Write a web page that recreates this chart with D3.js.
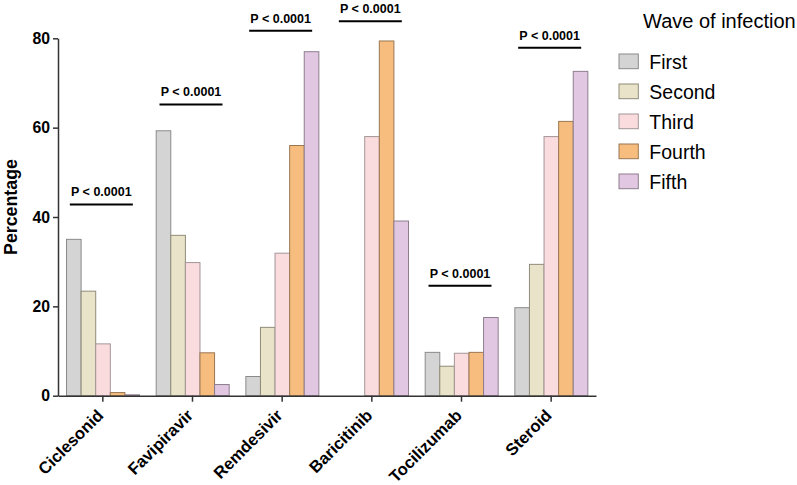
<!DOCTYPE html>
<html>
<head>
<meta charset="utf-8">
<script src="https://cdn.jsdelivr.net/npm/d3@7"></script>
<style>
  body { margin: 0; background: #fff; }
  svg { font-family: "Liberation Sans", Arial, sans-serif; display: block; }
  .axis path, .axis line { stroke: #333; stroke-width: 1.5; }
  .axis text { font-weight: bold; font-size: 15.8px; fill: #000; }
</style>
</head>
<body>
<svg id="chart"></svg>
<script>
// data
let categories = ['Ciclesonid', 'Favipiravir', 'Remdesivir', 'Baricitinib', 'Tocilizumab', 'Steroid'];
let waves = ['First', 'Second', 'Third', 'Fourth', 'Fifth'];

let first  = [35.0, 59.3, 4.3, 0, 9.7, 19.7];
let second = [23.4, 35.9, 15.3, 0, 6.6, 29.4];
let third  = [11.6, 29.8, 31.9, 58.0, 9.5, 58.0];
let fourth = [0.7, 9.6, 56.0, 79.4, 9.7, 61.4];
let fifth  = [0.2, 2.5, 77.0, 39.1, 17.5, 72.6];

// significance bars (height in percent) and their labels
let pLevels = [42.8, 65.2, 81.7, 83.8, 24.6, 77.9];
let pLabels = ['P < 0.0001', 'P < 0.0001', 'P < 0.0001', 'P < 0.0001', 'P < 0.0001', 'P < 0.0001'];

let yTicks = [0, 20, 40, 60, 80];

let fills   = ['#d4d4d4', '#e9e4c9', '#fadcdf', '#f7bd7e', '#e1c7e1'];
let strokes = ['#8a8a8a', '#8f8b78', '#a39597', '#9a7752', '#8d7e8d'];

let width = 797;
let height = 485;

let plot = { left: 58, right: 596, top: 38.3, bottom: 395.7 };

let svg = d3.select('#chart')
  .attr('width', width)
  .attr('height', height);

function translate(x, y) {
  return 'translate(' + x + ',' + y + ')';
}

let series = [first, second, third, fourth, fifth];

let rows = categories.map(function(c, i) {
  return {
    category: c,
    values: waves.map(function(w, j) {
      return { wave: w, value: series[j][i], index: j };
    })
  };
});

let x0 = d3.scaleBand()
  .domain(categories)
  .range([plot.left, plot.right])
  .paddingInner(0)
  .paddingOuter(0);

let x1 = d3.scaleBand()
  .domain(waves)
  .range([x0.bandwidth() * 0.095, x0.bandwidth() * 0.909])
  .padding(0);

let y = d3.scaleLinear()
  .domain([0, 80])
  .range([plot.bottom, plot.top]);

// bars
let groups = svg.append('g').attr('id', 'bars')
  .selectAll('g')
  .data(rows)
  .enter().append('g')
  .attr('transform', d => translate(x0(d.category), 0));

groups.selectAll('rect')
  .data(d => d.values)
  .enter().append('rect')
  .attr('x', d => x1(d.wave))
  .attr('width', x1.bandwidth())
  .attr('y', d => y(d.value))
  .attr('height', d => y(0) - y(d.value))
  .attr('fill', d => fills[d.index])
  .attr('stroke', d => strokes[d.index])
  .attr('stroke-width', 1);

// axes
let yAxis = d3.axisLeft(y)
  .tickValues(yTicks)
  .tickSize(5)
  .tickSizeOuter(0)
  .tickPadding(3);

svg.append('g')
  .attr('class', 'axis')
  .attr('transform', translate(plot.left, 0))
  .call(yAxis);

let xAxis = d3.axisBottom(x0)
  .tickSize(6)
  .tickSizeOuter(0)
  .tickFormat('');

svg.append('g')
  .attr('class', 'axis')
  .attr('transform', translate(0, plot.bottom))
  .call(xAxis);

// rotated category labels
svg.append('g').selectAll('text')
  .data(categories)
  .enter().append('text')
  .attr('transform', d => translate(x0(d) + x0.bandwidth() / 2 + 1.5, 416.5) + ' rotate(-45)')
  .attr('text-anchor', 'end')
  .style('font-weight', 'bold')
  .style('font-size', '16.6px')
  .text(d => d);

// y axis title
svg.append('text')
  .attr('transform', translate(16.5, 207) + ' rotate(-90)')
  .attr('text-anchor', 'middle')
  .style('font-weight', 'bold')
  .style('font-size', '17.8px')
  .text('Percentage');

// significance lines
let sig = svg.append('g').attr('id', 'significance')
  .selectAll('g')
  .data(categories)
  .enter().append('g');

sig.append('line')
  .attr('x1', d => x0(d) + x0.bandwidth() / 2 - 33)
  .attr('x2', d => x0(d) + x0.bandwidth() / 2 + 30)
  .attr('y1', (d, i) => y(pLevels[i]))
  .attr('y2', (d, i) => y(pLevels[i]))
  .attr('stroke', '#000')
  .attr('stroke-width', 2);

sig.append('text')
  .attr('x', d => x0(d) + x0.bandwidth() / 2 - 1.5)
  .attr('y', (d, i) => Math.max(y(pLevels[i]) - 8, 8.5))
  .attr('text-anchor', 'middle')
  .style('font-weight', 'bold')
  .style('font-size', '12.5px')
  .text((d, i) => pLabels[i]);

// legend
let legend = svg.append('g').attr('id', 'legend');

legend.append('text')
  .attr('x', 643)
  .attr('y', 28.3)
  .style('font-size', '20px')
  .text('Wave of infection');

let items = legend.selectAll('g.item')
  .data(waves)
  .enter().append('g')
  .attr('class', 'item')
  .attr('transform', (d, i) => translate(619, 54 + i * 30));

items.append('rect')
  .attr('width', 19.3)
  .attr('height', 14.7)
  .attr('fill', (d, i) => fills[i])
  .attr('stroke', (d, i) => strokes[i])
  .attr('stroke-width', 1);

items.append('text')
  .attr('x', 30.3)
  .attr('y', 14.5)
  .style('font-size', '19.5px')
  .text(d => d);
</script>
</body>
</html>
